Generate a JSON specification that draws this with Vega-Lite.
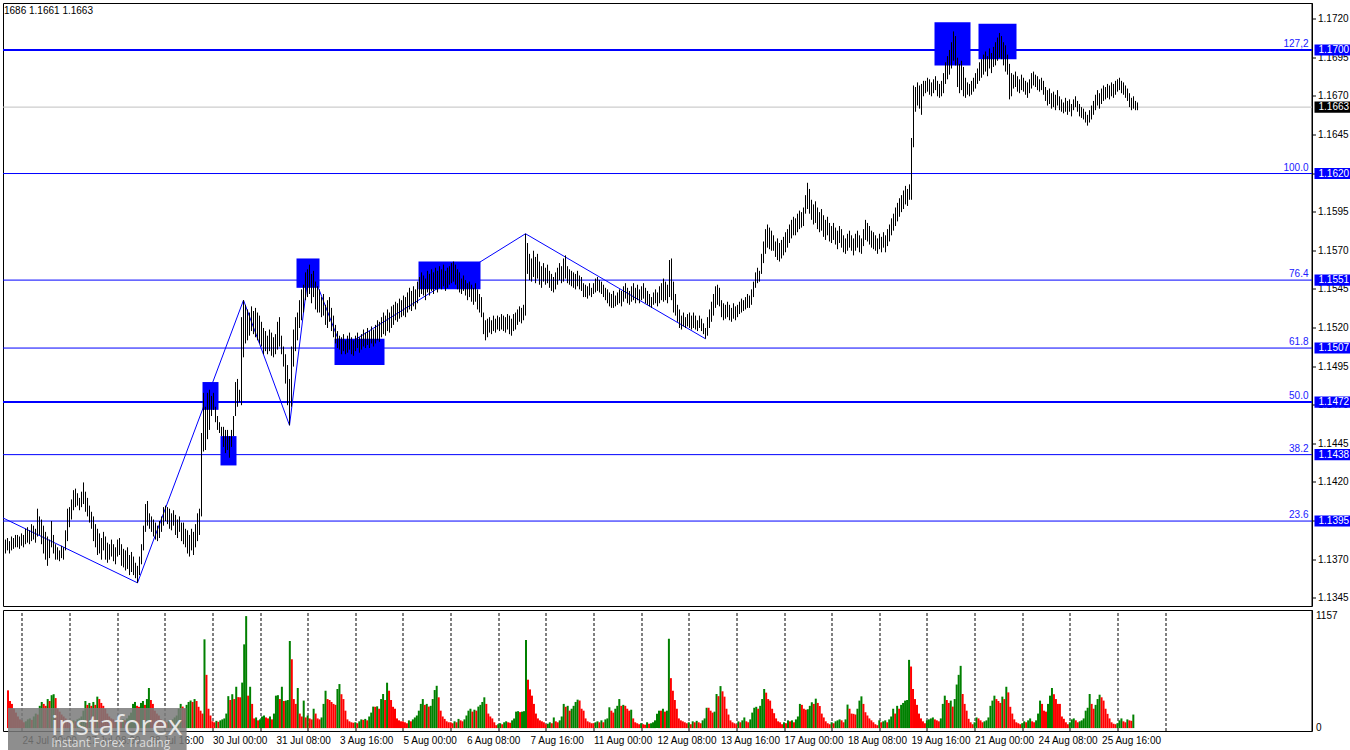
{
  "$schema": "https://vega.github.io/schema/vega-lite/v6.json",
  "padding": {"left": 0, "top": 2, "right": 0, "bottom": 0},
  "background": "#ffffff",
  "spacing": 2,
  "config": {
    "view": {"stroke": "#000000", "strokeWidth": 1},
    "axis": {"translate": 0, "labelFont": "Liberation Sans", "labelFontSize": 10, "labelColor": "#000000", "domainColor": "#000000", "tickColor": "#000000", "title": null},
    "text": {"font": "Liberation Sans"},
    "title": {"font": "Liberation Sans"}
  },
  "datasets": {
    "fibs": [
      {"p": 1.1700, "lvl": "127,2"},
      {"p": 1.1620, "lvl": "100.0"},
      {"p": 1.1551, "lvl": "76.4"},
      {"p": 1.1507, "lvl": "61.8"},
      {"p": 1.1472, "lvl": "50.0"},
      {"p": 1.1438, "lvl": "38.2"},
      {"p": 1.1395, "lvl": "23.6"}
    ],
    "last": [{"p": 1.1663}],
    "zz": [
      {"j": -7.25, "p": 1.1397}, {"j": 60, "p": 1.1355}, {"j": 113, "p": 1.1538}, {"j": 136, "p": 1.1457},
      {"j": 146, "p": 1.1561}, {"j": 162, "p": 1.1507}, {"j": 254, "p": 1.1581}, {"j": 344, "p": 1.1513}
    ],
    "boxes": [
      {"j1": 92.5, "j2": 100.5, "p1": 1.1485, "p2": 1.1467},
      {"j1": 101.5, "j2": 109.5, "p1": 1.1450, "p2": 1.1431},
      {"j1": 139.5, "j2": 151, "p1": 1.1565, "p2": 1.1546},
      {"j1": 158.5, "j2": 183.5, "p1": 1.1513, "p2": 1.1496},
      {"j1": 200.5, "j2": 231.5, "p1": 1.1563, "p2": 1.1545},
      {"j1": 458.5, "j2": 476.5, "p1": 1.1718, "p2": 1.1690},
      {"j1": 480.5, "j2": 499.5, "p1": 1.1717, "p2": 1.1694}
    ],
    "bars": [
      {"j":-7,"h":1.1381,"l":1.1371,"v":390},{"j":-6,"h":1.1383,"l":1.1374,"v":280},{"j":-5,"h":1.1384,"l":1.1376,"v":250},{"j":-4,"h":1.1382,"l":1.1374,"v":200},
      {"j":-3,"h":1.1385,"l":1.1376,"v":160},{"j":-2,"h":1.1384,"l":1.1377,"v":120},{"j":-1,"h":1.1386,"l":1.1378,"v":90},
      {"j":0,"h":1.1386,"l":1.1378,"v":80},{"j":1,"h":1.1385,"l":1.1377,"v":60},{"j":2,"h":1.1387,"l":1.1379,"v":70},{"j":3,"h":1.1386,"l":1.1378,"v":90},
      {"j":4,"h":1.1390,"l":1.1380,"v":100},{"j":5,"h":1.1391,"l":1.1381,"v":85},{"j":6,"h":1.1389,"l":1.1380,"v":120},{"j":7,"h":1.1393,"l":1.1382,"v":150},
      {"j":8,"h":1.1392,"l":1.1383,"v":140},{"j":9,"h":1.1390,"l":1.1381,"v":230},{"j":10,"h":1.1403,"l":1.1385,"v":270},{"j":11,"h":1.1398,"l":1.1386,"v":250},
      {"j":12,"h":1.1396,"l":1.1380,"v":230},{"j":13,"h":1.1392,"l":1.1374,"v":300},{"j":14,"h":1.1388,"l":1.1370,"v":280},{"j":15,"h":1.1385,"l":1.1366,"v":340},
      {"j":16,"h":1.1383,"l":1.1371,"v":350},{"j":17,"h":1.1395,"l":1.1378,"v":310},{"j":18,"h":1.1386,"l":1.1374,"v":200},{"j":19,"h":1.1380,"l":1.1370,"v":170},
      {"j":20,"h":1.1378,"l":1.1370,"v":140},{"j":21,"h":1.1376,"l":1.1369,"v":120},{"j":22,"h":1.1379,"l":1.1371,"v":100},{"j":23,"h":1.1378,"l":1.1370,"v":80},
      {"j":24,"h":1.1389,"l":1.1376,"v":70},{"j":25,"h":1.1403,"l":1.1382,"v":60},{"j":26,"h":1.1404,"l":1.1391,"v":80},{"j":27,"h":1.1409,"l":1.1396,"v":70},
      {"j":28,"h":1.1415,"l":1.1402,"v":90},{"j":29,"h":1.1416,"l":1.1404,"v":100},{"j":30,"h":1.1413,"l":1.1405,"v":120},{"j":31,"h":1.1410,"l":1.1402,"v":180},
      {"j":32,"h":1.1414,"l":1.1404,"v":280},{"j":33,"h":1.1420,"l":1.1406,"v":240},{"j":34,"h":1.1414,"l":1.1401,"v":260},{"j":35,"h":1.1410,"l":1.1398,"v":230},
      {"j":36,"h":1.1405,"l":1.1394,"v":270},{"j":37,"h":1.1401,"l":1.1390,"v":240},{"j":38,"h":1.1398,"l":1.1382,"v":325},{"j":39,"h":1.1393,"l":1.1378,"v":300},
      {"j":40,"h":1.1390,"l":1.1373,"v":260},{"j":41,"h":1.1387,"l":1.1374,"v":230},{"j":42,"h":1.1384,"l":1.1370,"v":200},{"j":43,"h":1.1388,"l":1.1376,"v":150},
      {"j":44,"h":1.1385,"l":1.1370,"v":120},{"j":45,"h":1.1381,"l":1.1368,"v":100},{"j":46,"h":1.1380,"l":1.1370,"v":90},{"j":47,"h":1.1383,"l":1.1372,"v":70},
      {"j":48,"h":1.1380,"l":1.1369,"v":80},{"j":49,"h":1.1378,"l":1.1367,"v":70},{"j":50,"h":1.1383,"l":1.1372,"v":60},{"j":51,"h":1.1384,"l":1.1373,"v":90},
      {"j":52,"h":1.1380,"l":1.1366,"v":80},{"j":53,"h":1.1377,"l":1.1365,"v":100},{"j":54,"h":1.1376,"l":1.1363,"v":130},{"j":55,"h":1.1378,"l":1.1364,"v":160},
      {"j":56,"h":1.1373,"l":1.1360,"v":250},{"j":57,"h":1.1375,"l":1.1362,"v":270},{"j":58,"h":1.1372,"l":1.1360,"v":230},{"j":59,"h":1.1368,"l":1.1358,"v":220},
      {"j":60,"h":1.1366,"l":1.1355,"v":260},{"j":61,"h":1.1372,"l":1.1360,"v":280},{"j":62,"h":1.1380,"l":1.1367,"v":240},{"j":63,"h":1.1392,"l":1.1376,"v":300},
      {"j":64,"h":1.1406,"l":1.1388,"v":414},{"j":65,"h":1.1408,"l":1.1392,"v":290},{"j":66,"h":1.1400,"l":1.1390,"v":250},{"j":67,"h":1.1398,"l":1.1388,"v":180},
      {"j":68,"h":1.1396,"l":1.1385,"v":150},{"j":69,"h":1.1394,"l":1.1383,"v":130},{"j":70,"h":1.1392,"l":1.1382,"v":90},{"j":71,"h":1.1395,"l":1.1384,"v":70},
      {"j":72,"h":1.1398,"l":1.1388,"v":70},{"j":73,"h":1.1404,"l":1.1392,"v":60},{"j":74,"h":1.1405,"l":1.1395,"v":80},{"j":75,"h":1.1404,"l":1.1393,"v":70},
      {"j":76,"h":1.1403,"l":1.1390,"v":90},{"j":77,"h":1.1400,"l":1.1389,"v":110},{"j":78,"h":1.1402,"l":1.1392,"v":130},{"j":79,"h":1.1399,"l":1.1386,"v":200},
      {"j":80,"h":1.1396,"l":1.1384,"v":250},{"j":81,"h":1.1398,"l":1.1388,"v":222},{"j":82,"h":1.1394,"l":1.1382,"v":200},{"j":83,"h":1.1394,"l":1.1380,"v":240},
      {"j":84,"h":1.1390,"l":1.1378,"v":270},{"j":85,"h":1.1389,"l":1.1374,"v":285},{"j":86,"h":1.1386,"l":1.1372,"v":270},{"j":87,"h":1.1390,"l":1.1376,"v":300},
      {"j":88,"h":1.1388,"l":1.1373,"v":280},{"j":89,"h":1.1393,"l":1.1378,"v":220},{"j":90,"h":1.1400,"l":1.1382,"v":180},{"j":91,"h":1.1403,"l":1.1386,"v":150},
      {"j":92,"h":1.1452,"l":1.1398,"v":917},{"j":93,"h":1.1478,"l":1.1440,"v":550},{"j":94,"h":1.1469,"l":1.1441,"v":200},{"j":95,"h":1.1478,"l":1.1448,"v":130},
      {"j":96,"h":1.1480,"l":1.1454,"v":70},{"j":97,"h":1.1476,"l":1.1463,"v":60},{"j":98,"h":1.1478,"l":1.1467,"v":75},{"j":99,"h":1.1469,"l":1.1459,"v":65},
      {"j":100,"h":1.1463,"l":1.1454,"v":80},{"j":101,"h":1.1459,"l":1.1452,"v":90},{"j":102,"h":1.1456,"l":1.1450,"v":100},{"j":103,"h":1.1456,"l":1.1443,"v":150},
      {"j":104,"h":1.1454,"l":1.1439,"v":330},{"j":105,"h":1.1454,"l":1.1441,"v":290},{"j":106,"h":1.1450,"l":1.1436,"v":350},{"j":107,"h":1.1454,"l":1.1443,"v":300},
      {"j":108,"h":1.1463,"l":1.1450,"v":427},{"j":109,"h":1.1485,"l":1.1463,"v":320},{"j":110,"h":1.1487,"l":1.1469,"v":318},{"j":111,"h":1.1480,"l":1.1472,"v":470},
      {"j":112,"h":1.1527,"l":1.1470,"v":865},{"j":113,"h":1.1538,"l":1.1501,"v":1157},{"j":114,"h":1.1535,"l":1.1510,"v":335},{"j":115,"h":1.1532,"l":1.1512,"v":427},
      {"j":116,"h":1.1530,"l":1.1515,"v":250},{"j":117,"h":1.1534,"l":1.1518,"v":100},{"j":118,"h":1.1531,"l":1.1516,"v":110},{"j":119,"h":1.1533,"l":1.1514,"v":80},
      {"j":120,"h":1.1530,"l":1.1512,"v":90},{"j":121,"h":1.1528,"l":1.1510,"v":120},{"j":122,"h":1.1524,"l":1.1508,"v":130},{"j":123,"h":1.1520,"l":1.1503,"v":110},
      {"j":124,"h":1.1518,"l":1.1505,"v":100},{"j":125,"h":1.1515,"l":1.1503,"v":120},{"j":126,"h":1.1519,"l":1.1505,"v":90},{"j":127,"h":1.1517,"l":1.1502,"v":150},
      {"j":128,"h":1.1514,"l":1.1501,"v":335},{"j":129,"h":1.1516,"l":1.1503,"v":340},{"j":130,"h":1.1524,"l":1.1506,"v":300},{"j":131,"h":1.1527,"l":1.1508,"v":427},
      {"j":132,"h":1.1515,"l":1.1503,"v":280},{"j":133,"h":1.1508,"l":1.1495,"v":284},{"j":134,"h":1.1503,"l":1.1484,"v":290},{"j":135,"h":1.1496,"l":1.1470,"v":900},
      {"j":136,"h":1.1487,"l":1.1457,"v":711},{"j":137,"h":1.1508,"l":1.1469,"v":300},{"j":138,"h":1.1519,"l":1.1495,"v":250},{"j":139,"h":1.1527,"l":1.1505,"v":414},
      {"j":140,"h":1.1530,"l":1.1512,"v":150},{"j":141,"h":1.1538,"l":1.1520,"v":120},{"j":142,"h":1.1545,"l":1.1525,"v":284},{"j":143,"h":1.1548,"l":1.1530,"v":110},
      {"j":144,"h":1.1556,"l":1.1538,"v":130},{"j":145,"h":1.1558,"l":1.1540,"v":100},{"j":146,"h":1.1561,"l":1.1542,"v":90},{"j":147,"h":1.1555,"l":1.1536,"v":200},
      {"j":148,"h":1.1557,"l":1.1540,"v":150},{"j":149,"h":1.1550,"l":1.1532,"v":100},{"j":150,"h":1.1547,"l":1.1530,"v":90},{"j":151,"h":1.1545,"l":1.1530,"v":110},
      {"j":152,"h":1.1540,"l":1.1527,"v":250},{"j":153,"h":1.1542,"l":1.1528,"v":386},{"j":154,"h":1.1535,"l":1.1522,"v":300},{"j":155,"h":1.1538,"l":1.1520,"v":290},
      {"j":156,"h":1.1540,"l":1.1524,"v":270},{"j":157,"h":1.1533,"l":1.1518,"v":250},{"j":158,"h":1.1528,"l":1.1514,"v":240},{"j":159,"h":1.1522,"l":1.1510,"v":404},
      {"j":160,"h":1.1518,"l":1.1507,"v":455},{"j":161,"h":1.1515,"l":1.1506,"v":350},{"j":162,"h":1.1514,"l":1.1503,"v":300},{"j":163,"h":1.1516,"l":1.1505,"v":180},
      {"j":164,"h":1.1512,"l":1.1503,"v":90},{"j":165,"h":1.1515,"l":1.1504,"v":70},{"j":166,"h":1.1517,"l":1.1506,"v":60},{"j":167,"h":1.1514,"l":1.1503,"v":55},
      {"j":168,"h":1.1512,"l":1.1502,"v":60},{"j":169,"h":1.1515,"l":1.1505,"v":50},{"j":170,"h":1.1517,"l":1.1507,"v":70},{"j":171,"h":1.1514,"l":1.1504,"v":90},
      {"j":172,"h":1.1516,"l":1.1506,"v":85},{"j":173,"h":1.1519,"l":1.1508,"v":95},{"j":174,"h":1.1517,"l":1.1507,"v":80},{"j":175,"h":1.1520,"l":1.1509,"v":120},
      {"j":176,"h":1.1518,"l":1.1507,"v":160},{"j":177,"h":1.1521,"l":1.1510,"v":222},{"j":178,"h":1.1519,"l":1.1508,"v":220},{"j":179,"h":1.1522,"l":1.1510,"v":225},
      {"j":180,"h":1.1525,"l":1.1512,"v":200},{"j":181,"h":1.1524,"l":1.1511,"v":300},{"j":182,"h":1.1527,"l":1.1514,"v":352},{"j":183,"h":1.1530,"l":1.1516,"v":290},
      {"j":184,"h":1.1528,"l":1.1515,"v":469},{"j":185,"h":1.1532,"l":1.1518,"v":386},{"j":186,"h":1.1530,"l":1.1517,"v":290},{"j":187,"h":1.1534,"l":1.1520,"v":220},
      {"j":188,"h":1.1535,"l":1.1522,"v":200},{"j":189,"h":1.1537,"l":1.1525,"v":100},{"j":190,"h":1.1536,"l":1.1524,"v":80},{"j":191,"h":1.1539,"l":1.1526,"v":70},
      {"j":192,"h":1.1538,"l":1.1527,"v":70},{"j":193,"h":1.1541,"l":1.1528,"v":60},{"j":194,"h":1.1540,"l":1.1527,"v":50},{"j":195,"h":1.1543,"l":1.1530,"v":80},
      {"j":196,"h":1.1546,"l":1.1532,"v":70},{"j":197,"h":1.1544,"l":1.1531,"v":90},{"j":198,"h":1.1547,"l":1.1534,"v":110},{"j":199,"h":1.1545,"l":1.1532,"v":130},
      {"j":200,"h":1.1550,"l":1.1536,"v":180},{"j":201,"h":1.1553,"l":1.1540,"v":250},{"j":202,"h":1.1556,"l":1.1542,"v":300},{"j":203,"h":1.1554,"l":1.1541,"v":240},
      {"j":204,"h":1.1552,"l":1.1538,"v":250},{"j":205,"h":1.1557,"l":1.1543,"v":222},{"j":206,"h":1.1555,"l":1.1541,"v":230},{"j":207,"h":1.1558,"l":1.1544,"v":300},
      {"j":208,"h":1.1556,"l":1.1542,"v":393},{"j":209,"h":1.1559,"l":1.1545,"v":437},{"j":210,"h":1.1557,"l":1.1543,"v":318},{"j":211,"h":1.1560,"l":1.1546,"v":180},
      {"j":212,"h":1.1558,"l":1.1545,"v":120},{"j":213,"h":1.1561,"l":1.1547,"v":95},{"j":214,"h":1.1557,"l":1.1544,"v":70},{"j":215,"h":1.1559,"l":1.1546,"v":60},
      {"j":216,"h":1.1560,"l":1.1548,"v":60},{"j":217,"h":1.1562,"l":1.1549,"v":50},{"j":218,"h":1.1563,"l":1.1550,"v":70},{"j":219,"h":1.1561,"l":1.1548,"v":60},
      {"j":220,"h":1.1558,"l":1.1545,"v":95},{"j":221,"h":1.1556,"l":1.1543,"v":80},{"j":222,"h":1.1552,"l":1.1542,"v":70},{"j":223,"h":1.1554,"l":1.1544,"v":90},
      {"j":224,"h":1.1551,"l":1.1541,"v":130},{"j":225,"h":1.1549,"l":1.1538,"v":180},{"j":226,"h":1.1550,"l":1.1540,"v":200},{"j":227,"h":1.1548,"l":1.1537,"v":170},
      {"j":228,"h":1.1546,"l":1.1535,"v":190},{"j":229,"h":1.1549,"l":1.1537,"v":180},{"j":230,"h":1.1545,"l":1.1532,"v":222},{"j":231,"h":1.1542,"l":1.1530,"v":240},
      {"j":232,"h":1.1540,"l":1.1527,"v":270},{"j":233,"h":1.1530,"l":1.1516,"v":318},{"j":234,"h":1.1525,"l":1.1512,"v":250},{"j":235,"h":1.1526,"l":1.1514,"v":150},
      {"j":236,"h":1.1527,"l":1.1517,"v":120},{"j":237,"h":1.1525,"l":1.1516,"v":100},{"j":238,"h":1.1528,"l":1.1518,"v":60},{"j":239,"h":1.1526,"l":1.1517,"v":30},
      {"j":240,"h":1.1528,"l":1.1519,"v":40},{"j":241,"h":1.1527,"l":1.1518,"v":50},{"j":242,"h":1.1529,"l":1.1519,"v":40},{"j":243,"h":1.1528,"l":1.1518,"v":60},
      {"j":244,"h":1.1527,"l":1.1517,"v":70},{"j":245,"h":1.1529,"l":1.1519,"v":60},{"j":246,"h":1.1528,"l":1.1516,"v":55},{"j":247,"h":1.1526,"l":1.1515,"v":80},
      {"j":248,"h":1.1529,"l":1.1518,"v":100},{"j":249,"h":1.1530,"l":1.1519,"v":170},{"j":250,"h":1.1532,"l":1.1522,"v":175},{"j":251,"h":1.1534,"l":1.1524,"v":165},
      {"j":252,"h":1.1533,"l":1.1523,"v":170},{"j":253,"h":1.1535,"l":1.1525,"v":175},{"j":254,"h":1.1581,"l":1.1528,"v":910},{"j":255,"h":1.1575,"l":1.1555,"v":500},
      {"j":256,"h":1.1568,"l":1.1551,"v":400},{"j":257,"h":1.1565,"l":1.1550,"v":335},{"j":258,"h":1.1570,"l":1.1553,"v":250},{"j":259,"h":1.1566,"l":1.1549,"v":150},
      {"j":260,"h":1.1568,"l":1.1552,"v":100},{"j":261,"h":1.1563,"l":1.1548,"v":80},{"j":262,"h":1.1560,"l":1.1546,"v":70},{"j":263,"h":1.1562,"l":1.1550,"v":60},
      {"j":264,"h":1.1559,"l":1.1548,"v":40},{"j":265,"h":1.1561,"l":1.1549,"v":45},{"j":266,"h":1.1557,"l":1.1546,"v":60},{"j":267,"h":1.1555,"l":1.1544,"v":50},
      {"j":268,"h":1.1553,"l":1.1543,"v":110},{"j":269,"h":1.1556,"l":1.1545,"v":70},{"j":270,"h":1.1559,"l":1.1548,"v":60},{"j":271,"h":1.1562,"l":1.1551,"v":80},
      {"j":272,"h":1.1560,"l":1.1549,"v":120},{"j":273,"h":1.1565,"l":1.1550,"v":250},{"j":274,"h":1.1567,"l":1.1552,"v":220},{"j":275,"h":1.1560,"l":1.1549,"v":230},
      {"j":276,"h":1.1558,"l":1.1548,"v":180},{"j":277,"h":1.1557,"l":1.1547,"v":200},{"j":278,"h":1.1556,"l":1.1546,"v":230},{"j":279,"h":1.1555,"l":1.1545,"v":270},
      {"j":280,"h":1.1557,"l":1.1547,"v":294},{"j":281,"h":1.1554,"l":1.1545,"v":285},{"j":282,"h":1.1553,"l":1.1544,"v":200},{"j":283,"h":1.1549,"l":1.1540,"v":180},
      {"j":284,"h":1.1548,"l":1.1540,"v":100},{"j":285,"h":1.1547,"l":1.1539,"v":70},{"j":286,"h":1.1549,"l":1.1541,"v":60},{"j":287,"h":1.1546,"l":1.1540,"v":50},
      {"j":288,"h":1.1549,"l":1.1542,"v":50},{"j":289,"h":1.1552,"l":1.1543,"v":60},{"j":290,"h":1.1553,"l":1.1544,"v":70},{"j":291,"h":1.1551,"l":1.1543,"v":60},
      {"j":292,"h":1.1550,"l":1.1542,"v":80},{"j":293,"h":1.1548,"l":1.1540,"v":60},{"j":294,"h":1.1546,"l":1.1538,"v":90},{"j":295,"h":1.1545,"l":1.1536,"v":100},
      {"j":296,"h":1.1543,"l":1.1534,"v":215},{"j":297,"h":1.1542,"l":1.1533,"v":180},{"j":298,"h":1.1544,"l":1.1533,"v":160},{"j":299,"h":1.1541,"l":1.1534,"v":200},
      {"j":300,"h":1.1543,"l":1.1535,"v":230},{"j":301,"h":1.1545,"l":1.1536,"v":300},{"j":302,"h":1.1544,"l":1.1534,"v":230},{"j":303,"h":1.1547,"l":1.1537,"v":240},
      {"j":304,"h":1.1549,"l":1.1539,"v":230},{"j":305,"h":1.1546,"l":1.1536,"v":200},{"j":306,"h":1.1544,"l":1.1535,"v":180},{"j":307,"h":1.1547,"l":1.1537,"v":190},
      {"j":308,"h":1.1549,"l":1.1538,"v":100},{"j":309,"h":1.1546,"l":1.1536,"v":60},{"j":310,"h":1.1548,"l":1.1538,"v":50},{"j":311,"h":1.1545,"l":1.1536,"v":40},
      {"j":312,"h":1.1547,"l":1.1538,"v":50},{"j":313,"h":1.1549,"l":1.1539,"v":40},{"j":314,"h":1.1546,"l":1.1536,"v":35},{"j":315,"h":1.1544,"l":1.1535,"v":60},
      {"j":316,"h":1.1542,"l":1.1534,"v":45},{"j":317,"h":1.1540,"l":1.1533,"v":50},{"j":318,"h":1.1543,"l":1.1535,"v":60},{"j":319,"h":1.1545,"l":1.1536,"v":80},
      {"j":320,"h":1.1543,"l":1.1534,"v":147},{"j":321,"h":1.1547,"l":1.1536,"v":180},{"j":322,"h":1.1549,"l":1.1538,"v":180},{"j":323,"h":1.1552,"l":1.1537,"v":200},
      {"j":324,"h":1.1550,"l":1.1538,"v":170},{"j":325,"h":1.1548,"l":1.1536,"v":180},{"j":326,"h":1.1564,"l":1.1540,"v":923},{"j":327,"h":1.1565,"l":1.1538,"v":516},
      {"j":328,"h":1.1550,"l":1.1530,"v":386},{"j":329,"h":1.1542,"l":1.1528,"v":290},{"j":330,"h":1.1535,"l":1.1524,"v":200},{"j":331,"h":1.1532,"l":1.1520,"v":100},
      {"j":332,"h":1.1528,"l":1.1519,"v":80},{"j":333,"h":1.1530,"l":1.1521,"v":70},{"j":334,"h":1.1527,"l":1.1520,"v":60},{"j":335,"h":1.1529,"l":1.1521,"v":50},
      {"j":336,"h":1.1530,"l":1.1520,"v":60},{"j":337,"h":1.1528,"l":1.1519,"v":40},{"j":338,"h":1.1530,"l":1.1520,"v":70},{"j":339,"h":1.1528,"l":1.1519,"v":60},
      {"j":340,"h":1.1525,"l":1.1518,"v":75},{"j":341,"h":1.1528,"l":1.1520,"v":60},{"j":342,"h":1.1526,"l":1.1518,"v":50},{"j":343,"h":1.1523,"l":1.1516,"v":80},
      {"j":344,"h":1.1520,"l":1.1513,"v":100},{"j":345,"h":1.1527,"l":1.1515,"v":210},{"j":346,"h":1.1532,"l":1.1520,"v":210},{"j":347,"h":1.1537,"l":1.1524,"v":180},
      {"j":348,"h":1.1542,"l":1.1528,"v":160},{"j":349,"h":1.1547,"l":1.1533,"v":170},{"j":350,"h":1.1548,"l":1.1535,"v":352},{"j":351,"h":1.1546,"l":1.1534,"v":330},
      {"j":352,"h":1.1538,"l":1.1527,"v":434},{"j":353,"h":1.1536,"l":1.1525,"v":380},{"j":354,"h":1.1535,"l":1.1526,"v":325},{"j":355,"h":1.1537,"l":1.1527,"v":200},
      {"j":356,"h":1.1535,"l":1.1525,"v":140},{"j":357,"h":1.1533,"l":1.1524,"v":80},{"j":358,"h":1.1536,"l":1.1526,"v":60},{"j":359,"h":1.1534,"l":1.1525,"v":50},
      {"j":360,"h":1.1535,"l":1.1527,"v":40},{"j":361,"h":1.1537,"l":1.1529,"v":70},{"j":362,"h":1.1539,"l":1.1530,"v":60},{"j":363,"h":1.1538,"l":1.1531,"v":80},
      {"j":364,"h":1.1540,"l":1.1532,"v":110},{"j":365,"h":1.1542,"l":1.1533,"v":70},{"j":366,"h":1.1541,"l":1.1533,"v":60},{"j":367,"h":1.1545,"l":1.1535,"v":90},
      {"j":368,"h":1.1550,"l":1.1540,"v":160},{"j":369,"h":1.1556,"l":1.1546,"v":210},{"j":370,"h":1.1559,"l":1.1549,"v":220},{"j":371,"h":1.1557,"l":1.1550,"v":200},
      {"j":372,"h":1.1568,"l":1.1555,"v":230},{"j":373,"h":1.1576,"l":1.1562,"v":300},{"j":374,"h":1.1584,"l":1.1568,"v":404},{"j":375,"h":1.1587,"l":1.1572,"v":366},
      {"j":376,"h":1.1585,"l":1.1571,"v":300},{"j":377,"h":1.1583,"l":1.1570,"v":284},{"j":378,"h":1.1580,"l":1.1570,"v":200},{"j":379,"h":1.1576,"l":1.1566,"v":154},
      {"j":380,"h":1.1578,"l":1.1564,"v":100},{"j":381,"h":1.1575,"l":1.1563,"v":70},{"j":382,"h":1.1577,"l":1.1565,"v":60},{"j":383,"h":1.1579,"l":1.1567,"v":40},
      {"j":384,"h":1.1582,"l":1.1569,"v":60},{"j":385,"h":1.1584,"l":1.1572,"v":50},{"j":386,"h":1.1587,"l":1.1575,"v":80},{"j":387,"h":1.1590,"l":1.1578,"v":70},
      {"j":388,"h":1.1592,"l":1.1580,"v":80},{"j":389,"h":1.1591,"l":1.1580,"v":60},{"j":390,"h":1.1594,"l":1.1582,"v":90},{"j":391,"h":1.1596,"l":1.1584,"v":120},
      {"j":392,"h":1.1595,"l":1.1585,"v":250},{"j":393,"h":1.1598,"l":1.1586,"v":240},{"j":394,"h":1.1606,"l":1.1594,"v":200},{"j":395,"h":1.1614,"l":1.1597,"v":190},
      {"j":396,"h":1.1610,"l":1.1594,"v":195},{"j":397,"h":1.1603,"l":1.1590,"v":230},{"j":398,"h":1.1600,"l":1.1587,"v":267},{"j":399,"h":1.1602,"l":1.1588,"v":250},
      {"j":400,"h":1.1598,"l":1.1584,"v":304},{"j":401,"h":1.1595,"l":1.1582,"v":260},{"j":402,"h":1.1597,"l":1.1583,"v":228},{"j":403,"h":1.1593,"l":1.1579,"v":150},
      {"j":404,"h":1.1590,"l":1.1577,"v":110},{"j":405,"h":1.1592,"l":1.1580,"v":70},{"j":406,"h":1.1588,"l":1.1576,"v":50},{"j":407,"h":1.1586,"l":1.1575,"v":40},
      {"j":408,"h":1.1588,"l":1.1577,"v":60},{"j":409,"h":1.1585,"l":1.1574,"v":50},{"j":410,"h":1.1583,"l":1.1571,"v":70},{"j":411,"h":1.1586,"l":1.1575,"v":80},
      {"j":412,"h":1.1584,"l":1.1572,"v":90},{"j":413,"h":1.1580,"l":1.1569,"v":80},{"j":414,"h":1.1578,"l":1.1568,"v":60},{"j":415,"h":1.1581,"l":1.1570,"v":90},
      {"j":416,"h":1.1583,"l":1.1572,"v":243},{"j":417,"h":1.1580,"l":1.1570,"v":200},{"j":418,"h":1.1578,"l":1.1567,"v":150},{"j":419,"h":1.1581,"l":1.1570,"v":147},
      {"j":420,"h":1.1583,"l":1.1572,"v":140},{"j":421,"h":1.1580,"l":1.1569,"v":200},{"j":422,"h":1.1578,"l":1.1568,"v":284},{"j":423,"h":1.1584,"l":1.1573,"v":328},
      {"j":424,"h":1.1590,"l":1.1577,"v":250},{"j":425,"h":1.1588,"l":1.1576,"v":164},{"j":426,"h":1.1586,"l":1.1574,"v":130},{"j":427,"h":1.1583,"l":1.1572,"v":100},
      {"j":428,"h":1.1582,"l":1.1571,"v":80},{"j":429,"h":1.1580,"l":1.1570,"v":60},{"j":430,"h":1.1578,"l":1.1568,"v":40},{"j":431,"h":1.1581,"l":1.1571,"v":30},
      {"j":432,"h":1.1579,"l":1.1569,"v":80},{"j":433,"h":1.1582,"l":1.1572,"v":60},{"j":434,"h":1.1580,"l":1.1569,"v":70},{"j":435,"h":1.1584,"l":1.1573,"v":80},
      {"j":436,"h":1.1587,"l":1.1576,"v":60},{"j":437,"h":1.1591,"l":1.1580,"v":90},{"j":438,"h":1.1594,"l":1.1583,"v":120},{"j":439,"h":1.1598,"l":1.1586,"v":200},
      {"j":440,"h":1.1601,"l":1.1589,"v":150},{"j":441,"h":1.1604,"l":1.1592,"v":230},{"j":442,"h":1.1606,"l":1.1595,"v":200},{"j":443,"h":1.1609,"l":1.1597,"v":240},
      {"j":444,"h":1.1612,"l":1.1600,"v":260},{"j":445,"h":1.1610,"l":1.1599,"v":284},{"j":446,"h":1.1613,"l":1.1603,"v":290},{"j":447,"h":1.1643,"l":1.1603,"v":705},
      {"j":448,"h":1.1677,"l":1.1637,"v":636},{"j":449,"h":1.1676,"l":1.1660,"v":404},{"j":450,"h":1.1679,"l":1.1664,"v":300},{"j":451,"h":1.1677,"l":1.1662,"v":240},
      {"j":452,"h":1.1678,"l":1.1658,"v":150},{"j":453,"h":1.1680,"l":1.1670,"v":100},{"j":454,"h":1.1680,"l":1.1672,"v":70},{"j":455,"h":1.1682,"l":1.1673,"v":50},
      {"j":456,"h":1.1681,"l":1.1671,"v":80},{"j":457,"h":1.1679,"l":1.1670,"v":90},{"j":458,"h":1.1681,"l":1.1672,"v":100},{"j":459,"h":1.1683,"l":1.1674,"v":110},
      {"j":460,"h":1.1680,"l":1.1670,"v":90},{"j":461,"h":1.1678,"l":1.1669,"v":80},{"j":462,"h":1.1680,"l":1.1670,"v":70},{"j":463,"h":1.1685,"l":1.1672,"v":100},
      {"j":464,"h":1.1692,"l":1.1678,"v":250},{"j":465,"h":1.1696,"l":1.1681,"v":335},{"j":466,"h":1.1700,"l":1.1684,"v":290},{"j":467,"h":1.1705,"l":1.1688,"v":260},
      {"j":468,"h":1.1712,"l":1.1693,"v":284},{"j":469,"h":1.1709,"l":1.1690,"v":222},{"j":470,"h":1.1695,"l":1.1676,"v":300},{"j":471,"h":1.1691,"l":1.1672,"v":450},
      {"j":472,"h":1.1693,"l":1.1674,"v":550},{"j":473,"h":1.1689,"l":1.1670,"v":643},{"j":474,"h":1.1682,"l":1.1669,"v":352},{"j":475,"h":1.1679,"l":1.1671,"v":250},
      {"j":476,"h":1.1678,"l":1.1670,"v":180},{"j":477,"h":1.1680,"l":1.1671,"v":96},{"j":478,"h":1.1682,"l":1.1673,"v":60},{"j":479,"h":1.1685,"l":1.1675,"v":40},
      {"j":480,"h":1.1688,"l":1.1678,"v":60},{"j":481,"h":1.1692,"l":1.1680,"v":110},{"j":482,"h":1.1694,"l":1.1682,"v":100},{"j":483,"h":1.1697,"l":1.1684,"v":80},
      {"j":484,"h":1.1699,"l":1.1686,"v":60},{"j":485,"h":1.1696,"l":1.1683,"v":70},{"j":486,"h":1.1701,"l":1.1688,"v":80},{"j":487,"h":1.1698,"l":1.1685,"v":110},
      {"j":488,"h":1.1702,"l":1.1689,"v":230},{"j":489,"h":1.1705,"l":1.1690,"v":284},{"j":490,"h":1.1708,"l":1.1693,"v":335},{"j":491,"h":1.1711,"l":1.1695,"v":300},
      {"j":492,"h":1.1709,"l":1.1694,"v":280},{"j":493,"h":1.1705,"l":1.1690,"v":260},{"j":494,"h":1.1703,"l":1.1686,"v":325},{"j":495,"h":1.1697,"l":1.1684,"v":300},
      {"j":496,"h":1.1691,"l":1.1668,"v":427},{"j":497,"h":1.1685,"l":1.1670,"v":369},{"j":498,"h":1.1684,"l":1.1675,"v":220},{"j":499,"h":1.1686,"l":1.1676,"v":150},
      {"j":500,"h":1.1683,"l":1.1673,"v":90},{"j":501,"h":1.1681,"l":1.1672,"v":60},{"j":502,"h":1.1684,"l":1.1674,"v":50},{"j":503,"h":1.1682,"l":1.1673,"v":40},
      {"j":504,"h":1.1680,"l":1.1671,"v":50},{"j":505,"h":1.1679,"l":1.1669,"v":70},{"j":506,"h":1.1681,"l":1.1672,"v":60},{"j":507,"h":1.1685,"l":1.1675,"v":80},
      {"j":508,"h":1.1686,"l":1.1677,"v":100},{"j":509,"h":1.1684,"l":1.1676,"v":70},{"j":510,"h":1.1683,"l":1.1674,"v":60},{"j":511,"h":1.1681,"l":1.1673,"v":80},
      {"j":512,"h":1.1682,"l":1.1674,"v":150},{"j":513,"h":1.1680,"l":1.1671,"v":284},{"j":514,"h":1.1676,"l":1.1667,"v":250},{"j":515,"h":1.1674,"l":1.1664,"v":180},
      {"j":516,"h":1.1675,"l":1.1665,"v":170},{"j":517,"h":1.1672,"l":1.1662,"v":250},{"j":518,"h":1.1673,"l":1.1663,"v":335},{"j":519,"h":1.1671,"l":1.1661,"v":414},
      {"j":520,"h":1.1674,"l":1.1664,"v":350},{"j":521,"h":1.1670,"l":1.1661,"v":300},{"j":522,"h":1.1668,"l":1.1660,"v":250},{"j":523,"h":1.1666,"l":1.1659,"v":250},
      {"j":524,"h":1.1669,"l":1.1660,"v":120},{"j":525,"h":1.1667,"l":1.1658,"v":96},{"j":526,"h":1.1668,"l":1.1660,"v":60},{"j":527,"h":1.1665,"l":1.1657,"v":40},
      {"j":528,"h":1.1668,"l":1.1661,"v":60},{"j":529,"h":1.1670,"l":1.1663,"v":90},{"j":530,"h":1.1667,"l":1.1660,"v":100},{"j":531,"h":1.1665,"l":1.1657,"v":80},
      {"j":532,"h":1.1663,"l":1.1656,"v":60},{"j":533,"h":1.1662,"l":1.1655,"v":70},{"j":534,"h":1.1660,"l":1.1653,"v":80},{"j":535,"h":1.1658,"l":1.1651,"v":100},
      {"j":536,"h":1.1661,"l":1.1653,"v":180},{"j":537,"h":1.1664,"l":1.1655,"v":210},{"j":538,"h":1.1667,"l":1.1658,"v":352},{"j":539,"h":1.1671,"l":1.1661,"v":250},
      {"j":540,"h":1.1674,"l":1.1664,"v":200},{"j":541,"h":1.1672,"l":1.1662,"v":240},{"j":542,"h":1.1675,"l":1.1665,"v":300},{"j":543,"h":1.1677,"l":1.1667,"v":345},
      {"j":544,"h":1.1676,"l":1.1668,"v":318},{"j":545,"h":1.1678,"l":1.1669,"v":284},{"j":546,"h":1.1677,"l":1.1668,"v":200},{"j":547,"h":1.1679,"l":1.1670,"v":147},
      {"j":548,"h":1.1678,"l":1.1669,"v":100},{"j":549,"h":1.1680,"l":1.1671,"v":60},{"j":550,"h":1.1681,"l":1.1673,"v":45},{"j":551,"h":1.1682,"l":1.1674,"v":40},
      {"j":552,"h":1.1680,"l":1.1672,"v":50},{"j":553,"h":1.1679,"l":1.1671,"v":80},{"j":554,"h":1.1677,"l":1.1669,"v":100},{"j":555,"h":1.1675,"l":1.1667,"v":70},
      {"j":556,"h":1.1672,"l":1.1663,"v":60},{"j":557,"h":1.1669,"l":1.1661,"v":90},{"j":558,"h":1.1670,"l":1.1662,"v":80},{"j":559,"h":1.1667,"l":1.1661,"v":75},
      {"j":560,"h":1.1666,"l":1.1661,"v":140}
    ]
  },
  "vconcat": [
    {
      "width": 1309,
      "height": 603,
      "title": {"text": "1686 1.1661 1.1663", "anchor": "start", "frame": "group", "offset": -13, "fontSize": 10, "fontWeight": "normal", "color": "#000000", "dx": 1},
      "layer": [
        {
          "data": {"name": "boxes"},
          "mark": {"type": "rect", "color": "#0000ff"},
          "encoding": {
            "x": {"field": "j1", "type": "quantitative", "scale": {"domain": [-7.25, 647.25], "nice": false, "zero": false},
                  "axis": {"grid": true, "values": [0,24,48,72,96,120,144,168,192,216,240,264,288,312,336,360,384,408,432,456,480,504,528,552,576],
                           "labels": false, "ticks": false, "domain": false, "gridDash": [3, 2], "gridColor": "#000000", "gridOpacity": 1}},
            "x2": {"field": "j2"},
            "y": {"field": "p1", "type": "quantitative", "scale": {"domain": [1.1340, 1.17304], "nice": false, "zero": false},
                  "axis": {"orient": "right", "grid": false, "format": ".4f", "tickSize": 4, "labelPadding": 2, "labelOverlap": false, "labelFlush": false,
                           "values": [1.1345,1.137,1.1395,1.142,1.1445,1.147,1.1495,1.152,1.1545,1.157,1.1595,1.162,1.1645,1.167,1.1695,1.172]}},
            "y2": {"field": "p2"}
          }
        },
        {
          "data": {"name": "fibs"},
          "mark": {"type": "rule", "color": "#0000ff"},
          "encoding": {
            "y": {"field": "p", "type": "quantitative"},
            "strokeWidth": {"condition": {"test": "datum.lvl == '127,2' || datum.lvl == '50.0'", "value": 2}, "value": 1}
          }
        },
        {
          "data": {"name": "last"},
          "mark": {"type": "rule", "color": "#c0c0c0", "strokeWidth": 1},
          "encoding": {"y": {"field": "p", "type": "quantitative"}}
        },
        {
          "data": {"name": "zz"},
          "mark": {"type": "line", "color": "#0000ff", "strokeWidth": 1},
          "encoding": {
            "x": {"field": "j", "type": "quantitative", "axis": null},
            "y": {"field": "p", "type": "quantitative"},
            "order": {"field": "j"}
          }
        },
        {
          "data": {"name": "bars"},
          "mark": {"type": "rule", "color": "#000000", "strokeWidth": 1},
          "encoding": {
            "x": {"field": "j", "type": "quantitative", "axis": null},
            "y": {"field": "l", "type": "quantitative"},
            "y2": {"field": "h"}
          }
        },
        {
          "data": {"name": "fibs"},
          "mark": {"type": "text", "color": "#2020ff", "align": "right", "baseline": "bottom", "dy": -1, "fontSize": 10},
          "encoding": {
            "x": {"datum": 645.5, "type": "quantitative", "axis": null},
            "y": {"field": "p", "type": "quantitative"},
            "text": {"field": "lvl"}
          }
        },
        {
          "data": {"name": "fibs"},
          "transform": [{"calculate": "datum.p + 0.00036", "as": "pt"}, {"calculate": "datum.p - 0.00036", "as": "pb"}],
          "mark": {"type": "rect", "color": "#0000ff", "clip": false},
          "encoding": {
            "x": {"datum": 648.5, "type": "quantitative", "axis": null},
            "x2": {"datum": 667},
            "y": {"field": "pt", "type": "quantitative"},
            "y2": {"field": "pb"}
          }
        },
        {
          "data": {"name": "last"},
          "transform": [{"calculate": "datum.p + 0.00036", "as": "pt"}, {"calculate": "datum.p - 0.00036", "as": "pb"}],
          "mark": {"type": "rect", "color": "#000000", "clip": false},
          "encoding": {
            "x": {"datum": 648.5, "type": "quantitative", "axis": null},
            "x2": {"datum": 667},
            "y": {"field": "pt", "type": "quantitative"},
            "y2": {"field": "pb"}
          }
        },
        {
          "data": {"name": "fibs"},
          "mark": {"type": "text", "color": "#ffffff", "align": "left", "baseline": "middle", "fontSize": 10, "clip": false},
          "encoding": {
            "x": {"datum": 650.5, "type": "quantitative", "axis": null},
            "y": {"field": "p", "type": "quantitative"},
            "text": {"field": "p", "format": ".4f"}
          }
        },
        {
          "data": {"name": "last"},
          "mark": {"type": "text", "color": "#ffffff", "align": "left", "baseline": "middle", "fontSize": 10, "clip": false},
          "encoding": {
            "x": {"datum": 650.5, "type": "quantitative", "axis": null},
            "y": {"field": "p", "type": "quantitative"},
            "text": {"field": "p", "format": ".4f"}
          }
        }
      ]
    },
    {
      "width": 1309,
      "height": 121,
      "data": {"name": "bars"},
      "layer": [
        {
          "transform": [{"window": [{"op": "lag", "field": "v", "as": "pv"}], "sort": [{"field": "j", "order": "ascending"}]}],
          "mark": {"type": "bar", "width": 2, "xOffset": -0.5},
          "encoding": {
            "x": {"field": "j", "type": "quantitative", "scale": {"domain": [-7.25, 647.25], "nice": false, "zero": false},
                  "axis": {"orient": "top", "grid": true, "values": [0,24,48,72,96,120,144,168,192,216,240,264,288,312,336,360,384,408,432,456,480,504,528,552,576],
                           "labels": false, "ticks": false, "domain": false, "gridDash": [3, 2], "gridColor": "#000000", "gridOpacity": 1}},
            "y": {"field": "v", "type": "quantitative", "scale": {"domain": [-30, 1220], "nice": false, "zero": false},
                  "axis": {"orient": "right", "values": [0, 1157], "format": "d", "ticks": false, "labelPadding": 4, "grid": false, "labelFlush": false, "labelOverlap": false}},
            "y2": {"datum": 0},
            "color": {"condition": {"test": "datum.pv != null && datum.v > datum.pv", "value": "#008000"}, "value": "#ff0000"}
          }
        },
        {
          "mark": {"type": "rule", "opacity": 0},
          "encoding": {
            "x": {"field": "j", "type": "quantitative",
                  "axis": {"orient": "bottom", "grid": false, "ticks": false, "domain": false, "labelAlign": "left", "labelPadding": 5,
                           "labelFlush": false, "labelOverlap": false, "labelBound": false,
                           "values": [0,32,64,96,128,160,192,224,256,288,320,352,384,416,448,480,512,544],
                           "labelExpr": "['24 Jul 00:00','27 Jul 08:00','28 Jul 16:00','30 Jul 00:00','31 Jul 08:00','3 Aug 16:00','5 Aug 00:00','6 Aug 08:00','7 Aug 16:00','11 Aug 00:00','12 Aug 08:00','13 Aug 16:00','17 Aug 00:00','18 Aug 08:00','19 Aug 16:00','21 Aug 00:00','24 Aug 08:00','25 Aug 16:00'][round(datum.value / 32)]"}}
          }
        },
        {
          "data": {"values": [{}]},
          "mark": {"type": "rect", "fill": "#7a7a7a", "opacity": 0.85, "clip": false},
          "encoding": {
            "x": {"datum": -7.25, "type": "quantitative", "axis": null},
            "x2": {"datum": 82.75},
            "y": {"datum": 208, "type": "quantitative"},
            "y2": {"datum": -257}
          }
        },
        {
          "data": {"values": [{}]},
          "mark": {"type": "text", "text": "instaforex", "font": "Open Sans", "fontSize": 28, "color": "#e6e6e6", "align": "left", "baseline": "alphabetic", "clip": false},
          "encoding": {
            "x": {"datum": 14.5, "type": "quantitative", "axis": null},
            "y": {"datum": -71, "type": "quantitative"}
          }
        },
        {
          "data": {"values": [{}]},
          "mark": {"type": "text", "text": "Instant Forex Trading", "font": "Open Sans", "fontSize": 12, "color": "#dcdcdc", "align": "left", "baseline": "alphabetic", "clip": false},
          "encoding": {
            "x": {"datum": 14.5, "type": "quantitative", "axis": null},
            "y": {"datum": -195, "type": "quantitative"}
          }
        }
      ],
      "resolve": {"axis": {"x": "independent"}}
    }
  ]
}
